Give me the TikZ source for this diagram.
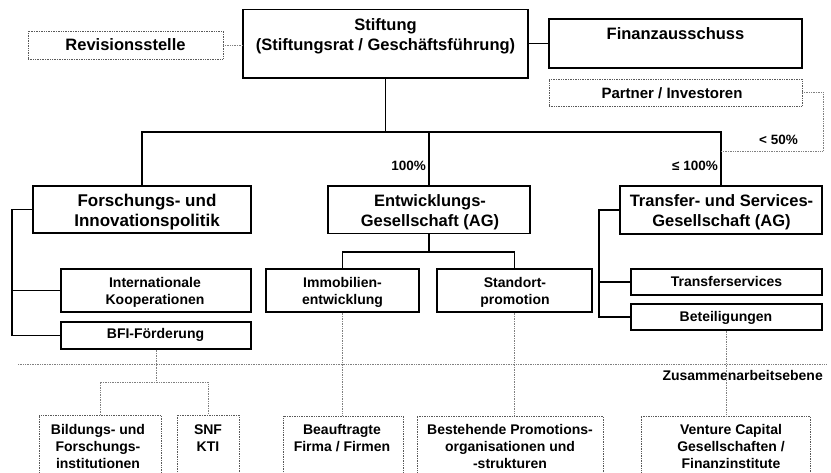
\documentclass[tikz,border=0pt]{standalone}
\usepackage{fontspec}
\setmainfont{Liberation Sans}
\begin{document}
\begin{tikzpicture}[x=1pt,y=-1pt,
  box/.style={draw=black,line width=1.1pt,inner sep=0pt},
  dbox/.style={draw=black!65,densely dotted,line width=0.7pt,inner sep=0pt},
  conn/.style={draw=black,line width=1.1pt},
  dconn/.style={draw=black!50,densely dotted,line width=0.7pt},
  big/.style={font=\fontsize{16.5}{20}\selectfont\bfseries,align=center,inner sep=0pt},
  bigf/.style={font=\fontsize{17}{20}\selectfont\bfseries,align=center,inner sep=0pt},
  mid/.style={font=\fontsize{15}{18}\selectfont\bfseries,align=center,inner sep=0pt},
  small/.style={font=\fontsize{14}{17}\selectfont\bfseries,align=center,inner sep=0pt},
  lbl/.style={font=\fontsize{13.5}{16}\selectfont\bfseries,inner sep=0pt},
]
\useasboundingbox (0,0) rectangle (831,473);
\clip (0,0) rectangle (831,473);

% boxes
\node[box,minimum width=285pt,minimum height=68.5pt] (stift) at (385.5,43.75) {};
\node[box,minimum width=253pt,minimum height=49pt] (finanz) at (675.5,43.5) {};
\node[dbox,minimum width=195pt,minimum height=28pt] (revision) at (125.5,45) {};
\node[dbox,minimum width=253pt,minimum height=27pt] (partner) at (675.5,92.5) {};
\node[box,minimum width=218pt,minimum height=47pt] (forsch) at (142,209.5) {};
\node[box,minimum width=202pt,minimum height=47.5pt] (entw) at (429,209.75) {};
\node[box,minimum width=202pt,minimum height=48pt] (transfer) at (721,210) {};
\node[box,minimum width=190pt,minimum height=43pt] (intl) at (156,290.5) {};
\node[box,minimum width=190pt,minimum height=27pt] (bfi) at (156,335.5) {};
\node[box,minimum width=153pt,minimum height=43pt] (immo) at (342.5,290.5) {};
\node[box,minimum width=155pt,minimum height=43pt] (standort) at (514.5,290.5) {};
\node[box,minimum width=191pt,minimum height=26pt] (tservices) at (726.5,282) {};
\node[box,minimum width=191pt,minimum height=26pt] (beteil) at (726.5,317) {};
\node[dbox,minimum width=122pt,minimum height=75pt] (bildung) at (100,452.5) {};
\node[dbox,minimum width=62pt,minimum height=75pt] (snf) at (208,452.5) {};
\node[dbox,minimum width=120pt,minimum height=74pt] (beauf) at (343,453) {};
\node[dbox,minimum width=186pt,minimum height=74pt] (bestehend) at (510,453) {};
\node[dbox,minimum width=169pt,minimum height=74pt] (venture) at (725.5,453) {};

% texts
\node[big] (stiftT) at (385.5,37) {\strut Stiftung\\\strut (Stiftungsrat / Geschäftsführung)};
\node[big] (finanzT) at (675.5,35.5) {\strut Finanzausschuss};
\node[big] (revisionT) at (125.5,47) {\strut Revisionsstelle};
\node[mid] (partnerT) at (672,94.7) {\strut Partner / Investoren};
\node[bigf] (forschT) at (147,213) {\strut Forschungs- und\\\strut Innovationspolitik};
\node[big] (entwT) at (430,213) {\strut Entwicklungs-\\\strut Gesellschaft (AG)};
\node[big] (transferT) at (721.5,213) {\strut Transfer- und Services-\\\strut Gesellschaft (AG)};
\node[small] (intlT) at (155,293.1) {\strut Internationale\\\strut Kooperationen};
\node[small] (bfiT) at (155.5,335.6) {\strut BFI-Förderung};
\node[small] (immoT) at (342.5,293.1) {\strut Immobilien-\\\strut entwicklung};
\node[small] (standortT) at (515,293.1) {\strut Standort-\\\strut promotion};
\node[small] (tservicesT) at (726.5,283.6) {\strut Transferservices};
\node[small] (beteilT) at (726,318.6) {\strut Beteiligungen};
\node[small] (bildungT) at (98,447.6) {\strut Bildungs- und\\\strut Forschungs-\\\strut institutionen};
\node[small] (snfT) at (208,439.1) {\strut SNF\\\strut KTI};
\node[small] (beaufT) at (342,439.1) {\strut Beauftragte\\\strut Firma / Firmen};
\node[small] (bestehendT) at (510,447.6) {\strut Bestehende Promotions-\\\strut organisationen und\\\strut -strukturen};
\node[small] (ventureT) at (731,447.6) {\strut Venture Capital\\\strut Gesellschaften /\\\strut Finanzinstitute};

% labels
\node[lbl,anchor=base east] (p100) at (426,171) {100\%};
\node[lbl,anchor=base east] (ple100) at (718,171) {≤ 100\%};
\node[lbl,anchor=base east] (plt50) at (798,145) {< 50\%};
\node[small,anchor=base east] (zus) at (823,381) {Zusammenarbeitsebene};

% solid connectors
\coordinate (bus) at (385.5,132);
\draw[conn] (stift.south) -- (bus);
\draw[conn] (forsch.north) |- (transfer.north |- bus) -- (transfer.north);
\draw[conn] (entw.north |- bus) -- (entw.north);
\draw[conn] (stift.east) -- (stift.east -| finanz.west);
\coordinate (fl) at (12,0);
\draw[conn] (forsch.west) -| (fl |- bfi.west) -- (bfi.west);
\draw[conn] (fl |- intl.west) -- (intl.west);
\coordinate (tl) at (599,0);
\draw[conn] (transfer.west) -| (tl |- beteil.west) -- (beteil.west);
\draw[conn] (tl |- tservices.west) -- (tservices.west);
\coordinate (eb) at (429,252);
\draw[conn] (entw.south) -- (eb);
\draw[conn] (immo.north) |- (eb) -| (standort.north);

% dotted connectors
\draw[dconn] (revision.east) -- (revision.east -| stift.west);
\coordinate (pc) at (823,151);
\draw[dconn] (partner.east) -| (pc) -- (pc -| transfer.north);
\coordinate (bb) at (156,382);
\draw[dconn] (bfi.south) -- (bb);
\draw[dconn] (bildung.north) |- (bb) -| (snf.north);
\draw[dconn] (immo.south) -- (immo.south |- beauf.north);
\draw[dconn] (standort.south) -- (standort.south |- bestehend.north);
\draw[dconn] (beteil.south) -- (beteil.south |- venture.north);
\coordinate (zl) at (18,364);
\coordinate (zr) at (826,364);
\draw[dconn] (zl) -- (zr);
\end{tikzpicture}
\end{document}
